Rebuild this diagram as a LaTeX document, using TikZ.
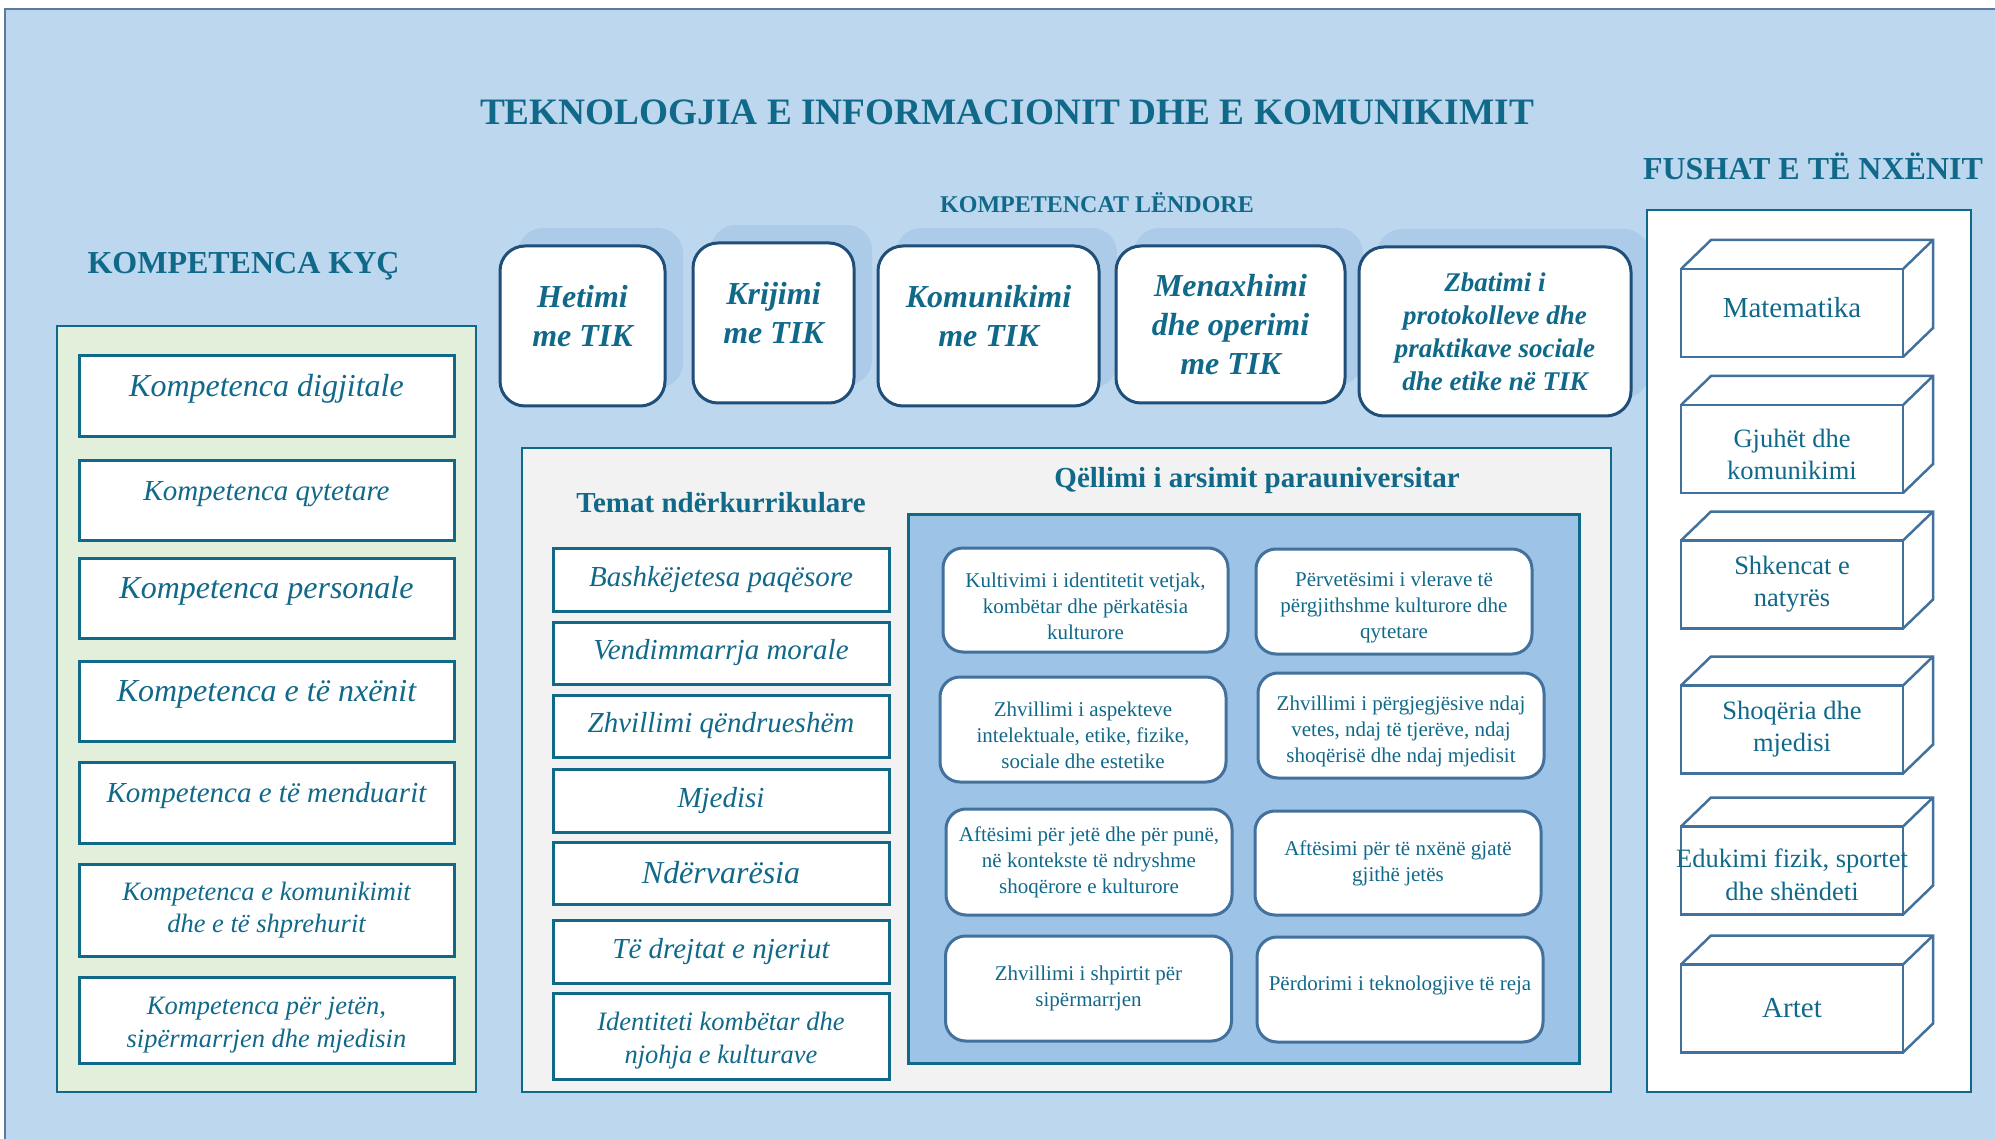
\documentclass[tikz,border=0pt]{standalone}
\usepackage{fontspec}
\setmainfont{Liberation Serif}
\usepackage{xcolor}
\usepackage{tikz}
\usetikzlibrary{positioning,calc,shadows}

\definecolor{bgblue}{HTML}{BDD7EE}
\definecolor{tealtxt}{HTML}{11698A}
\definecolor{kycgreen}{HTML}{E2EFDA}
\definecolor{panelgray}{HTML}{F2F2F2}
\definecolor{goalblue}{HTML}{9DC3E6}
\definecolor{navyline}{HTML}{1F4E79}
\definecolor{steelline}{HTML}{41719C}
\definecolor{shadowblue}{HTML}{ABCBE8}
\definecolor{frameline}{HTML}{5B7B9E}

\newcommand{\setsz}[2]{\fontsize{#1}{#2}\selectfont}
% struts that nudge a block of lines down (taller first line) or up (deeper last line)
\newcommand{\tstrut}[1]{\rule{0pt}{#1}}
\newcommand{\bstrut}[1]{\rule[-#1]{0pt}{#1}}

\begin{document}
\begin{tikzpicture}[x=1pt,y=-1pt,
  every node/.style={text=tealtxt, outer sep=0pt},
  head/.style={anchor=base, font=\setsz{#1}{#1}\bfseries},
  panel/.style={draw=tealtxt, line width=1.5pt, inner sep=0pt},
  kbox/.style={draw=tealtxt, line width=3pt, fill=white, minimum width=375pt, inner sep=0pt, align=center},
  tbox/.style={draw=tealtxt, line width=3pt, fill=white, minimum width=336pt, inner sep=0pt, align=center},
  lbox/.style={draw=navyline, line width=3pt, fill=white, rounded corners=25pt, inner sep=0pt, align=center,
    drop shadow={shadow xshift=18pt, shadow yshift=18pt, fill=shadowblue, opacity=1}},
  gbox/.style={draw=steelline, line width=3pt, fill=white, rounded corners=20pt, minimum width=286pt,
    minimum height=105pt, inner sep=0pt, align=center, font=\setsz{21}{26}},
  cube/.style={draw=steelline, line width=2.5pt, fill=white, minimum width=222pt, minimum height=88pt,
    inner sep=0pt, align=center},
  oneline/.style={text height=12pt, text depth=12pt}]

  % Background
  \useasboundingbox (0,0) rectangle (1995,1139);
  \fill[bgblue] (5,9) rectangle (1995,1139);
  \draw[frameline, line width=1.5pt] (5,1139) -- (5,9) -- (1995,9);

  % Headings
  \node[head=37.3] (title) at (1007,125) {TEKNOLOGJIA E INFORMACIONIT DHE E KOMUNIKIMIT};
  \node[head=32] (kychead) at (243.5,274) {KOMPETENCA KYÇ};
  \node[head=24] (lendhead) at (1097,213) {KOMPETENCAT LËNDORE};
  \node[head=32] (fushhead) at (1813,180) {FUSHAT E TË NXËNIT};

  % Key competences
  \node[panel, fill=kycgreen, minimum width=419pt, minimum height=766pt] (kyc) at (266.5,709) {};
  \node[kbox, oneline, minimum height=81pt, font=\setsz{32}{38}\itshape] (k1) at (266.5,396.5) {Kompetenca digjitale};
  \node[kbox, oneline, minimum height=80pt, font=\setsz{29}{34}\itshape] (k2) at (266.5,500) {Kompetenca qytetare};
  \node[kbox, oneline, minimum height=80pt, font=\setsz{32}{38}\itshape] (k3) at (266.5,598) {Kompetenca personale};
  \node[kbox, oneline, minimum height=80pt, font=\setsz{32}{38}\itshape] (k4) at (266.5,701) {Kompetenca e të nxënit};
  \node[kbox, oneline, minimum height=81pt, font=\setsz{29}{34}\itshape] (k5) at (266.5,802.5) {Kompetenca e të menduarit};
  \node[kbox, minimum height=92pt, font=\setsz{26.5}{32}\itshape] (k6) at (266.5,910) {Kompetenca e komunikimit\\dhe e të shprehurit};
  \node[kbox, minimum height=86pt, font=\setsz{26.5}{33}\itshape] (k7) at (266.5,1020) {\tstrut{28.5pt}Kompetenca për jetën,\\sipërmarrjen dhe mjedisin};

  % Subject competences
  \node[lbox, minimum width=165pt, minimum height=160pt, font=\setsz{32}{39}\bfseries\itshape] (het) at (582.5,326) {Hetimi\\me TIK\bstrut{20pt}};
  \node[lbox, minimum width=161pt, minimum height=160pt, font=\setsz{32}{39}\bfseries\itshape] (kri) at (773.5,323) {Krijimi\\me TIK\bstrut{20pt}};
  \node[lbox, minimum width=221pt, minimum height=160pt, font=\setsz{32}{39}\bfseries\itshape] (kom) at (988.5,326) {Komunikimi\\me TIK\bstrut{20pt}};
  \node[lbox, minimum width=229pt, minimum height=157pt, font=\setsz{32}{39}\bfseries\itshape] (men) at (1230.5,324.5) {Menaxhimi\\dhe operimi\\me TIK};
  \node[lbox, minimum width=272pt, minimum height=169pt, font=\setsz{27}{33}\bfseries\itshape] (zba) at (1495,331.5) {Zbatimi i\\protokolleve dhe\\praktikave sociale\\dhe etike në TIK};

  % Cross-curricular themes
  \node[panel, fill=panelgray, minimum width=1089pt, minimum height=644pt] (tem) at (1066.5,770) {};
  \node[head=29] (temhead) at (721,512) {Temat ndërkurrikulare};
  \node[head=29] (qelhead) at (1257,487) {Qëllimi i arsimit parauniversitar};
  \node[tbox, minimum height=63pt, font=\setsz{29}{34}\itshape] (t1) at (721,579.5) {Bashkëjetesa paqësore};
  \node[tbox, minimum height=62pt, font=\setsz{29}{34}\itshape] (t2) at (721,653) {Vendimmarrja morale};
  \node[tbox, minimum height=62pt, font=\setsz{29}{34}\itshape] (t3) at (721,726) {Zhvillimi qëndrueshëm};
  \node[tbox, minimum height=63pt, font=\setsz{29}{34}\itshape] (t4) at (721,800.5) {Mjedisi};
  \node[tbox, minimum height=62pt, font=\setsz{32}{38}\itshape] (t5) at (721,873) {Ndërvarësia};
  \node[tbox, minimum height=63pt, font=\setsz{29}{34}\itshape] (t6) at (721,951.5) {Të drejtat e njeriut};
  \node[tbox, minimum height=86pt, font=\setsz{26.5}{33}\itshape] (t7) at (721,1036) {\tstrut{28.5pt}Identiteti kombëtar dhe\\njohja e kulturave};

  % Goals of pre-university education
  \node[draw=tealtxt, line width=3pt, fill=goalblue, minimum width=671pt, minimum height=549pt] (goal) at (1243.5,788.5) {};
  \node[gbox, minimum width=285pt, minimum height=104pt] (g1) at (1085.5,600) {\tstrut{27pt}Kultivimi i identitetit vetjak,\\kombëtar dhe përkatësia\\kulturore};
  \node[gbox, minimum width=276pt] (g2) at (1394,601.5) {\tstrut{27pt}Përvetësimi i vlerave të\\përgjithshme kulturore dhe\\qytetare};
  \node[gbox] (g3) at (1083,729.5) {\tstrut{26pt}Zhvillimi i aspekteve\\intelektuale, etike, fizike,\\sociale dhe estetike};
  \node[gbox] (g4) at (1401,725.5) {\tstrut{26pt}Zhvillimi i përgjegjësive ndaj\\vetes, ndaj të tjerëve, ndaj\\shoqërisë dhe ndaj mjedisit};
  \node[gbox, minimum height=106pt] (g5) at (1089,862) {Aftësimi për jetë dhe për punë,\\në kontekste të ndryshme\\shoqërore e kulturore};
  \node[gbox, minimum height=104pt] (g6) at (1398,863) {Aftësimi për të nxënë gjatë\\gjithë jetës};
  \node[gbox] (g7) at (1088.5,988.5) {Zhvillimi i shpirtit për\\sipërmarrjen};
  \node[gbox] (g8) at (1400,989.5) {Përdorimi i teknologjive të reja\bstrut{13pt}};

  % Learning areas
  \node[panel, fill=white, minimum width=324pt, minimum height=882pt] (fush) at (1809,651) {};
  \node[cube, text height=20pt, text depth=10pt, font=\setsz{29}{34}] (mat) at (1792,313) {Matematika};
  \node[cube, font=\setsz{26.5}{32}] (gju) at (1792,449) {\tstrut{29pt}Gjuhët dhe\\komunikimi};
  \node[cube, font=\setsz{26.5}{32}] (shk) at (1792,584.5) {Shkencat e\\natyrës};
  \node[cube, font=\setsz{26.5}{32}] (sho) at (1792,729.5) {Shoqëria dhe\\mjedisi};
  \node[cube, font=\setsz{26.5}{33}] (edu) at (1792,870.5) {\tstrut{27pt}\makebox[0pt]{Edukimi fizik, sportet}\\dhe shëndeti};
  \node[cube, font=\setsz{29}{34}] (art) at (1792,1008.5) {Artet};
  \foreach \cb in {mat,gju,shk,sho,edu,art} {
    \draw[steelline, line width=2.5pt] (\cb.north west) -- ++(30,-29) -- ($(\cb.north east)+(30,-29)$)
      -- ($(\cb.south east)+(30,-29)$) -- (\cb.south east) (\cb.north east) -- ++(30,-29);
  }
\end{tikzpicture}
\end{document}
